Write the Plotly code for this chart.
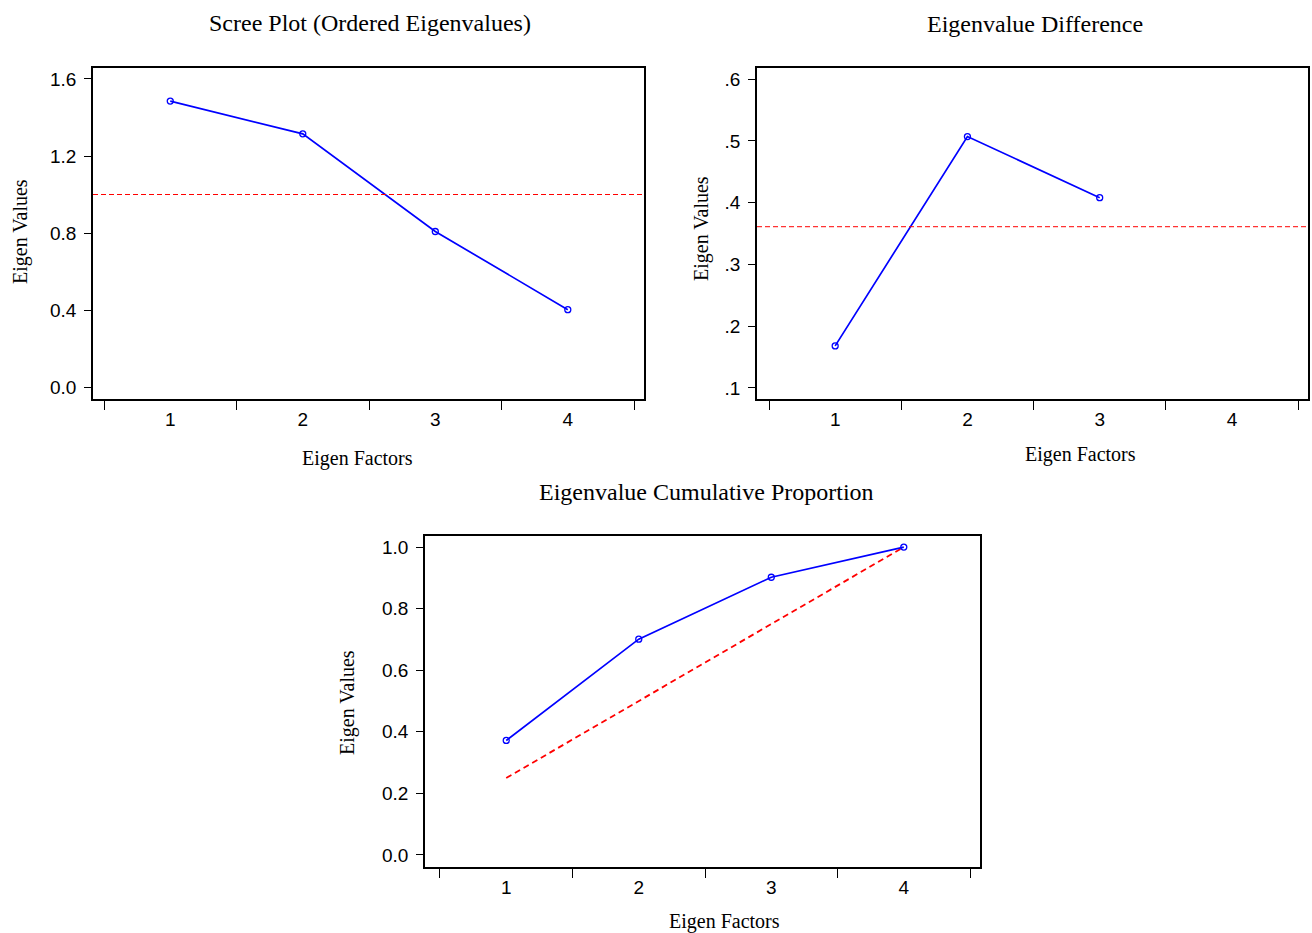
import plotly.graph_objects as go

# ---------------- data ----------------
factors = [1, 2, 3, 4]
factor_labels = ["1", "2", "3", "4"]

eigenvalues = [1.485, 1.315, 0.808, 0.402]
eig_ref = 1.0

eig_diff_x = [1, 2, 3]
eig_diff = [0.168, 0.507, 0.408]
diff_mean = 0.361

cum_prop = [0.372, 0.701, 0.902, 1.0]
equal_prop = [0.25, 0.50, 0.75, 1.0]

y1_ticks = [0.0, 0.4, 0.8, 1.2, 1.6]
y1_text = ["0.0", "0.4", "0.8", "1.2", "1.6"]
y2_ticks = [0.1, 0.2, 0.3, 0.4, 0.5, 0.6]
y2_text = [".1", ".2", ".3", ".4", ".5", ".6"]
y3_ticks = [0.0, 0.2, 0.4, 0.6, 0.8, 1.0]
y3_text = ["0.0", "0.2", "0.4", "0.6", "0.8", "1.0"]
x_bounds = [0.5, 1.5, 2.5, 3.5, 4.5]

titles = ["Scree Plot (Ordered Eigenvalues)", "Eigenvalue Difference",
          "Eigenvalue Cumulative Proportion"]
x_title = "Eigen Factors"
y_title = "Eigen Values"

# ---------------- layout helpers ----------------
W, H = 1312, 933
def px_x(a, b):
    return [a / W, b / W]
def px_y(top, bottom):
    return [1 - bottom / H, 1 - top / H]

BLUE = "#0000FF"
RED = "#FF0000"
SERIF = "Liberation Serif, Times New Roman, serif"
SANS = "Liberation Sans, Arial, sans-serif"
TICK_SIZE = 19

fig = go.Figure()

def line_trace(x, y, xa, ya):
    return go.Scatter(x=x, y=y, xaxis=xa, yaxis=ya, mode="lines+markers",
                      line=dict(color=BLUE, width=1.7),
                      marker=dict(symbol="circle-open", size=6, color=BLUE,
                                  line=dict(width=1.3, color=BLUE)),
                      showlegend=False, hoverinfo="x+y")

# panel 3 diagonal reference (under blue line)
fig.add_trace(go.Scatter(x=factors, y=equal_prop, xaxis="x3", yaxis="y3",
                         mode="lines", line=dict(color=RED, width=1.8, dash="6px,4px"),
                         showlegend=False))
fig.add_trace(line_trace(factors, eigenvalues, "x", "y"))
fig.add_trace(line_trace(eig_diff_x, eig_diff, "x2", "y2"))
fig.add_trace(line_trace(factors, cum_prop, "x3", "y3"))

def xaxis(domain, rng, anchor):
    return dict(domain=domain, range=rng, anchor=anchor,
                tickmode="array", tickvals=factors, ticktext=factor_labels,
                ticks="outside", ticklen=2, tickcolor="rgba(0,0,0,0)",
                ticklabelstandoff=0,
                minor=dict(tickmode="array", tickvals=x_bounds, ticks="outside",
                           ticklen=9, tickwidth=1.2, tickcolor="black", showgrid=False),
                showline=True, mirror=True, linecolor="black", linewidth=1.6,
                showgrid=False, zeroline=False, fixedrange=True,
                tickfont=dict(family=SANS, size=TICK_SIZE, color="black"))

def yaxis(domain, rng, anchor, tv, tt):
    return dict(domain=domain, range=rng, anchor=anchor,
                tickmode="array", tickvals=tv, ticktext=tt,
                ticks="outside", ticklen=7, tickwidth=1.2, tickcolor="black",
                ticklabelstandoff=4,
                showline=True, mirror=True, linecolor="black", linewidth=1.6,
                showgrid=False, zeroline=False, fixedrange=True,
                tickfont=dict(family=SANS, size=TICK_SIZE, color="black"))

fig.update_layout(
    width=W, height=H, margin=dict(l=0, r=0, t=0, b=0),
    paper_bgcolor="white", plot_bgcolor="white",
    xaxis=xaxis(px_x(93, 644), [0.417, 4.575], "y"),
    yaxis=yaxis(px_y(68, 399), [-0.062, 1.657], "x", y1_ticks, y1_text),
    xaxis2=xaxis(px_x(757, 1308), [0.409, 4.575], "y2"),
    yaxis2=yaxis(px_y(68, 399), [0.082, 0.618], "x2", y2_ticks, y2_text),
    xaxis3=xaxis(px_x(425, 980), [0.387, 4.575], "y3"),
    yaxis3=yaxis(px_y(536, 867), [-0.039, 1.036], "x3", y3_ticks, y3_text),
)

# horizontal reference lines
fig.add_shape(type="line", xref="x domain", yref="y", x0=0, x1=1, y0=eig_ref, y1=eig_ref,
              line=dict(color=RED, width=1, dash="5px,3px"))
fig.add_shape(type="line", xref="x2 domain", yref="y2", x0=0, x1=1, y0=diff_mean, y1=diff_mean,
              line=dict(color=RED, width=1, dash="5px,3px"))

def ann(text, cx, cy, size, angle=0):
    fig.add_annotation(text=text, x=cx / W, y=1 - cy / H, xref="paper", yref="paper",
                       showarrow=False, xanchor="center", yanchor="middle",
                       textangle=angle, font=dict(family=SERIF, size=size, color="black"))

ann(titles[0], 370, 23, 24)
ann(titles[1], 1035, 24, 24)
ann(titles[2], 706, 492, 24)
ann(x_title, 357, 459, 20)
ann(x_title, 1080, 455, 20)
ann(x_title, 724, 921, 20)
ann(y_title, 20, 232, 20, -90)
ann(y_title, 701, 229, 20, -90)
ann(y_title, 347, 703, 20, -90)

fig.write_html("out.html", config={"displayModeBar": False},
               post_script="document.body.style.margin='0';document.body.style.overflow='hidden';")
